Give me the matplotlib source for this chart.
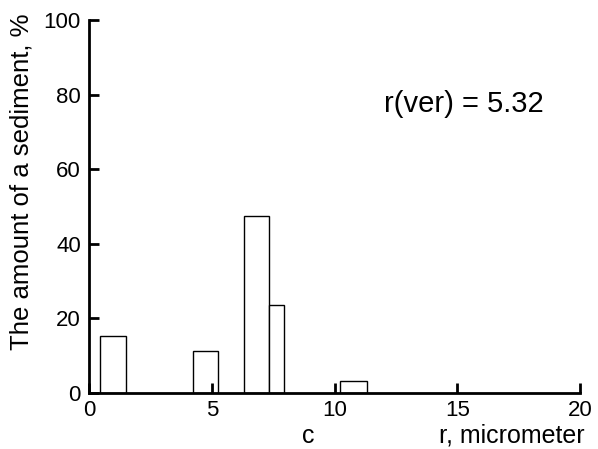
import matplotlib
matplotlib.use("Agg")
import matplotlib.pyplot as plt

plt.rcParams['font.family'] = ['Liberation Sans', 'DejaVu Sans']

# bar left edges, widths, heights (percent)
left = [0.45, 4.22, 6.29, 7.34, 10.24]
width = [1.05, 1.03, 1.05, 0.59, 1.07]
amount = [15.2, 11.3, 47.5, 23.7, 3.3]

fig = plt.figure(figsize=(5.98, 4.49), dpi=100)
ax = fig.add_axes([0.149, 0.1247, 0.821, 0.8305])

ax.bar(left, amount, width=width, align='edge', facecolor='white', edgecolor='black', linewidth=1.0)

ax.set_xlim(0, 20)
ax.set_ylim(0, 100)
ax.set_xticks([0, 5, 10, 15, 20])
ax.set_yticks([0, 20, 40, 60, 80, 100])
ax.tick_params(direction='in', length=7, width=2, labelsize=16)
ax.tick_params(axis='x', pad=5)
ax.tick_params(axis='y', pad=6)
for s in ['top', 'right']:
    ax.spines[s].set_visible(False)
for s in ['left', 'bottom']:
    ax.spines[s].set_linewidth(2)

ax.set_ylabel("The amount of a sediment, %", fontsize=18.5)
ax.yaxis.set_label_coords(-0.114, 0.567)
ax.text(0.434, -0.134, "c", transform=ax.transAxes, fontsize=18, va='baseline', ha='left')
ax.text(1.01, -0.134, "r, micrometer", transform=ax.transAxes, fontsize=18, va='baseline', ha='right')
ax.text(12.0, 77.5, "r(ver) = 5.32", fontsize=21, va='center', ha='left')

fig.savefig("out.png", dpi=100)
